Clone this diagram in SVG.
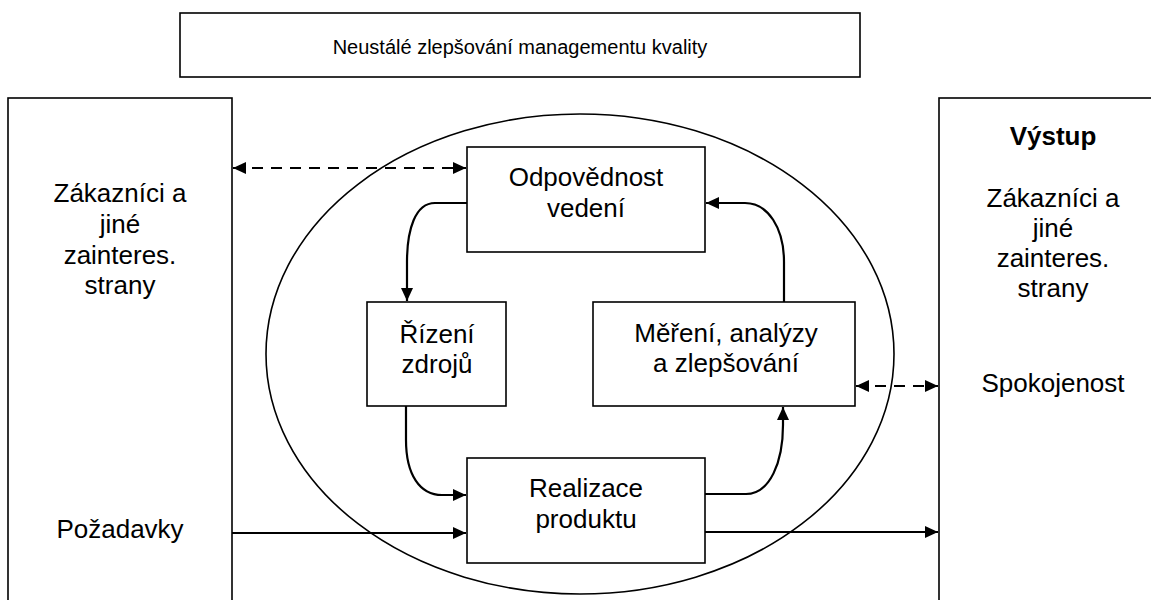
<svg xmlns="http://www.w3.org/2000/svg" width="1151" height="600" viewBox="0 0 1151 600">
<style>
.box{fill:#fff;stroke:#000;stroke-width:1.6}
.t{font-family:"Liberation Sans",Arial,sans-serif;font-size:26px;fill:#000;text-anchor:middle}
.ttop{font-size:20px}
.b{font-weight:bold}
.c{fill:none;stroke:#000;stroke-width:2.2}
.d{stroke-dasharray:11 8}
</style>
<defs>
<marker id="arr" viewBox="0 0 13 12" refX="13" refY="6" markerWidth="13" markerHeight="12" markerUnits="userSpaceOnUse" orient="auto-start-reverse">
<path d="M0,0 L13,6 L0,12 z" fill="#000"/>
</marker>
</defs>
<rect width="1151" height="600" fill="#fff"/>
<g id="top">
<rect class="box" x="180" y="13" width="680" height="64"/>
<text class="t ttop" x="520" y="54">Neustálé zlepšování managementu kvality</text>
</g>
<g id="left">
<rect class="box" x="8" y="98" width="224" height="510"/>
<text class="t" x="120" y="202">Zákazníci a</text>
<text class="t" x="120" y="233">jiné</text>
<text class="t" x="120" y="264">zainteres.</text>
<text class="t" x="120" y="294">strany</text>
<text class="t" x="120" y="538">Požadavky</text>
</g>
<g id="right">
<rect class="box" x="939" y="98" width="220" height="510"/>
<text class="t b" x="1053" y="145">Výstup</text>
<text class="t" x="1053" y="207">Zákazníci a</text>
<text class="t" x="1053" y="237">jiné</text>
<text class="t" x="1053" y="267">zainteres.</text>
<text class="t" x="1053" y="297">strany</text>
<text class="t" x="1053" y="392">Spokojenost</text>
</g>
<g id="system">
<ellipse cx="580" cy="354" rx="314" ry="240" fill="none" stroke="#000" stroke-width="1.6"/>
</g>
<g id="odpovednost">
<rect class="box" x="467" y="147" width="238" height="105"/>
<text class="t" x="586" y="186">Odpovědnost</text>
<text class="t" x="586" y="217">vedení</text>
</g>
<g id="rizeni">
<rect class="box" x="367" y="302" width="139" height="104"/>
<text class="t" x="437" y="343">Řízení</text>
<text class="t" x="437" y="373">zdrojů</text>
</g>
<g id="mereni">
<rect class="box" x="593" y="302" width="262" height="104"/>
<text class="t" x="726" y="342">Měření, analýzy</text>
<text class="t" x="726" y="372">a zlepšování</text>
</g>
<g id="realizace">
<rect class="box" x="467" y="458" width="238" height="105"/>
<text class="t" x="586" y="497">Realizace</text>
<text class="t" x="586" y="528">produktu</text>
</g>
<g id="connectors">
<path class="c d" d="M233,168 H466" marker-start="url(#arr)" marker-end="url(#arr)"/>
<path class="c d" d="M856,386 H938" marker-start="url(#arr)" marker-end="url(#arr)"/>
<path class="c" d="M467,203 H435 C415,203 407,230 407,262 V301" marker-end="url(#arr)"/>
<path class="c" d="M406,406 V440 C406,475 420,495 442,495 H466" marker-end="url(#arr)"/>
<path class="c" d="M705,494 H746 C770,494 783,462 783,425 V407" marker-end="url(#arr)"/>
<path class="c" d="M784,302 V262 C784,228 768,203 745,203 H706" marker-end="url(#arr)"/>
<path class="c" d="M232,533 H466" marker-end="url(#arr)"/>
<path class="c" d="M705,532 H938" marker-end="url(#arr)"/>
</g>
</svg>
